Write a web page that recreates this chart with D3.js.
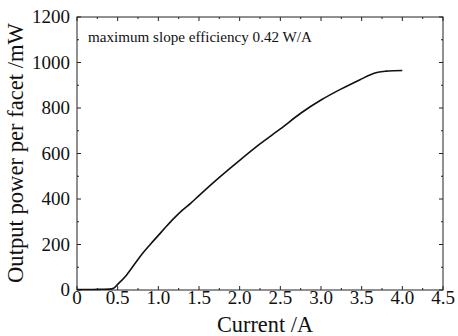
<!DOCTYPE html>
<html>
<head>
<meta charset="utf-8">
<script src="https://cdn.jsdelivr.net/npm/d3@7"></script>
<style>
  body { margin: 0; background: #fff; }
  svg { display: block; }
</style>
</head>
<body>
<svg id="chart" width="458" height="336"></svg>
<script>
// values
const current = [0, 0.2, 0.3, 0.4, 0.45, 0.5, 0.6, 0.7, 0.8, 0.9, 1.0, 1.1, 1.2, 1.3, 1.4, 1.5,
  1.75, 2.0, 2.25, 2.5, 2.75, 3.0, 3.25, 3.5, 3.6, 3.7, 3.8, 3.9, 4.0];
const power = [2, 2, 3, 4, 8, 25, 62, 110, 158, 200, 240, 280, 318, 352, 382, 415,
  495, 570, 642, 708, 777, 835, 884, 928, 945, 957, 962, 964, 965];

const xTicks = [0, 0.5, 1.0, 1.5, 2.0, 2.5, 3.0, 3.5, 4.0, 4.5];
const yTicks = [0, 200, 400, 600, 800, 1000, 1200];
const xLabel = "Current /A";
const yLabel = "Output power per facet /mW";
const note = "maximum slope efficiency 0.42 W/A";

const margin = { left: 77, right: 15, top: 17, bottom: 46 };
const width = 458, height = 336;
const serif = "Liberation Serif";

const svg = d3.select("#chart");

const x = d3.scaleLinear().domain([0, 4.5]).range([margin.left, width - margin.right]);
const y = d3.scaleLinear().domain([0, 1200]).range([height - margin.bottom, margin.top]);

const xMinor = d3.range(0, 4.5001, 0.25);
const yMinor = d3.range(0, 1200.1, 100);

// size a piece of text so it spans about as wide as in the reference
function fitSize(str, target) {
  const t = svg.append("text").attr("font-family", serif).attr("font-size", 20).text(str);
  const w = t.node().getComputedTextLength();
  t.remove();
  return 20 * target / w;
}
const tickSize = fitSize("1200", 38);

// frame
svg.append("rect")
  .attr("x", x(0)).attr("y", y(1200))
  .attr("width", x(4.5) - x(0)).attr("height", y(0) - y(1200))
  .attr("fill", "none").attr("stroke", "#222").attr("stroke-width", 1);

const isMajorX = v => Math.abs(v * 2 - Math.round(v * 2)) < 1e-6;
const isMajorY = v => v % 200 === 0;

// inward ticks on all four sides
const g = svg.append("g").attr("stroke", "#222").attr("stroke-width", 1);
xMinor.forEach(v => {
  const len = isMajorX(v) ? 4 : 2;
  g.append("line").attr("x1", x(v)).attr("x2", x(v)).attr("y1", y(0)).attr("y2", y(0) - len);
  g.append("line").attr("x1", x(v)).attr("x2", x(v)).attr("y1", y(1200)).attr("y2", y(1200) + len);
});
yMinor.forEach(v => {
  const len = isMajorY(v) ? 4 : 2;
  g.append("line").attr("y1", y(v)).attr("y2", y(v)).attr("x1", x(0)).attr("x2", x(0) + len);
  g.append("line").attr("y1", y(v)).attr("y2", y(v)).attr("x1", x(4.5)).attr("x2", x(4.5) - len);
});

// tick labels
svg.append("g").selectAll("text").data(xTicks).join("text")
  .attr("x", d => x(d)).attr("y", y(0) + 14)
  .attr("text-anchor", "middle").attr("font-family", serif).attr("font-size", tickSize).attr("fill", "#111")
  .text(d => d === 0 ? "0" : d.toFixed(1));

svg.append("g").selectAll("text").data(yTicks).join("text")
  .attr("x", x(0) - 7).attr("y", d => y(d) + 6)
  .attr("text-anchor", "end").attr("font-family", serif).attr("font-size", tickSize).attr("fill", "#111")
  .text(d => d);

// axis titles
svg.append("text")
  .attr("x", 265).attr("y", 332)
  .attr("text-anchor", "middle").attr("font-family", serif).attr("font-size", fitSize(xLabel, 96)).attr("fill", "#111")
  .text(xLabel);

svg.append("text")
  .attr("transform", `translate(23,${(23 + 283) / 2}) rotate(-90)`)
  .attr("text-anchor", "middle").attr("font-family", serif).attr("font-size", fitSize(yLabel, 260)).attr("fill", "#111")
  .text(yLabel);

// annotation
svg.append("text")
  .attr("x", 88).attr("y", 42)
  .attr("font-family", serif).attr("font-size", fitSize(note, 224)).attr("fill", "#111")
  .text(note);

// curve
const line = d3.line().x((d, i) => x(current[i])).y(d => y(d)).curve(d3.curveMonotoneX);
svg.append("path")
  .datum(power)
  .attr("d", line)
  .attr("fill", "none").attr("stroke", "#111").attr("stroke-width", 1.6);
</script>
</body>
</html>
